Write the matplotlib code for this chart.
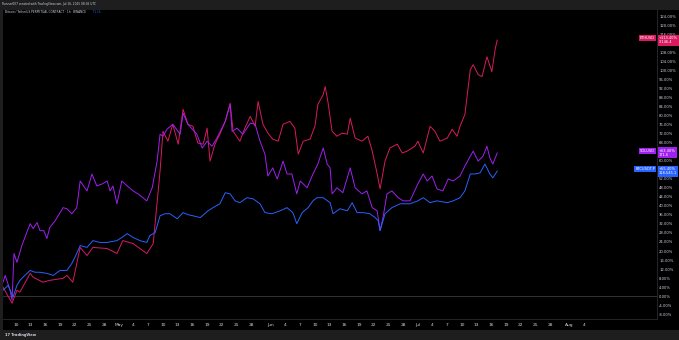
import matplotlib.pyplot as plt
import matplotlib.ticker as mticker
import pandas as pd
import numpy as np

# day offsets from 2025-04-10 and % change
START = pd.Timestamp("2025-04-10")

eth_days = [-2.65, -0.8, 0.2, 0.8, 2.9, 3.5, 5.5, 6.9, 9.6, 10.4, 11.6, 13.1, 14.5, 15.7, 18.6,
            20.6, 21.8, 23.9, 26.7, 28.0, 29.4, 30.0, 31.0, 32.0, 33.1, 34.1, 35.1, 36.1, 37.1,
            38.2, 39.0, 39.6, 40.6, 41.6, 42.7, 43.7, 44.3, 45.7, 46.7, 47.8, 48.8, 49.4, 50.4,
            51.4, 52.4, 53.5, 54.5, 55.9, 56.9, 57.6, 58.6, 60.0, 61.0, 61.6, 62.7, 63.1, 63.7,
            64.5, 65.5, 66.5, 67.6, 68.2, 69.2, 70.6, 71.8, 72.7, 73.7, 74.3, 75.3, 76.3, 77.8,
            78.8, 79.8, 81.4, 82.0, 83.1, 84.5, 85.5, 86.5, 88.0, 89.0, 90.0, 90.6, 91.6, 92.0,
            92.7, 93.3, 94.3, 95.1, 96.1, 97.1, 97.8, 98.2]
eth_pct = [4.0, -3.1, 2.6, 1.8, 10.1, 8.4, 6.2, 7.0, 7.9, 9.2, 6.2, 21.6, 18.0, 21.6, 21.1,
           18.9, 24.6, 23.3, 18.9, 23.3, 55.4, 73.0, 68.6, 76.1, 67.3, 82.7, 76.1, 75.2, 67.8,
           67.3, 74.4, 59.8, 67.3, 71.7, 77.4, 85.4, 73.0, 68.6, 74.4, 79.6, 75.2, 86.2, 76.1,
           72.2, 69.5, 68.6, 76.1, 77.4, 74.4, 62.9, 68.6, 69.5, 75.2, 84.9, 89.3, 92.8, 85.4,
           73.0, 70.8, 72.2, 71.7, 78.8, 70.0, 68.6, 70.8, 64.2, 54.1, 47.5, 59.8, 65.6, 67.3,
           63.4, 64.2, 66.4, 68.6, 63.4, 75.2, 73.0, 68.6, 70.0, 73.9, 70.8, 75.2, 80.5, 87.6,
           100.3, 102.5, 98.1, 97.2, 106.0, 99.4, 109.6, 113.4]

sol_days = [-2.65, -2.2, -1.2, -0.8, -0.4, 0.2, 1.2, 2.2, 2.9, 3.5, 4.3, 4.9, 5.7, 6.3, 6.9,
            8.0, 9.0, 9.6, 10.4, 11.4, 12.4, 13.1, 14.5, 15.5, 16.5, 17.6, 18.6, 19.2, 19.8,
            20.6, 21.6, 22.7, 23.9, 24.9, 25.9, 26.7, 27.8, 28.8, 29.4, 30.0, 30.8, 32.0, 33.5,
            34.1, 35.1, 36.9, 38.0, 39.0, 40.0, 41.0, 42.7, 43.7, 44.1, 45.1, 46.3, 47.8, 48.8,
            49.8, 50.8, 51.4, 52.4, 53.3, 54.5, 55.3, 56.3, 57.3, 58.0, 59.4, 60.6, 61.6, 62.0,
            62.7, 63.5, 64.1, 64.5, 65.5, 66.7, 68.2, 69.2, 70.6, 71.6, 72.7, 73.7, 74.3, 74.9,
            75.7, 76.7, 78.0, 79.0, 80.4, 82.0, 83.1, 83.9, 84.9, 85.9, 87.1, 88.2, 89.2, 90.6,
            91.6, 92.7, 93.3, 94.3, 95.3, 96.1, 96.7, 97.3, 98.2]
sol_pct = [6.2, 9.2, 2.6, -1.8, 18.9, 15.0, 22.4, 28.2, 32.1, 29.9, 32.6, 29.0, 29.0, 25.5, 30.4,
           33.4, 37.0, 39.2, 38.7, 36.5, 39.2, 51.0, 46.6, 54.1, 48.8, 49.7, 51.0, 46.6, 48.8,
           40.9, 51.0, 48.8, 46.6, 45.3, 43.6, 42.2, 48.0, 59.8, 71.7, 70.8, 73.9, 76.1, 71.7,
           81.0, 76.1, 71.7, 65.6, 68.6, 66.4, 70.0, 77.4, 84.9, 73.0, 74.4, 71.7, 76.6, 76.1,
           68.6, 62.9, 53.2, 56.8, 51.9, 59.8, 54.1, 54.1, 45.3, 51.0, 48.0, 54.1, 58.5, 61.2,
           65.6, 58.5, 56.8, 45.3, 48.0, 45.8, 56.8, 48.0, 45.3, 46.6, 39.2, 37.8, 29.0, 34.8,
           45.3, 46.6, 43.6, 42.2, 42.2, 49.7, 54.1, 51.0, 53.2, 47.5, 46.6, 51.9, 51.0, 53.2,
           57.6, 62.0, 64.2, 59.8, 62.0, 66.4, 61.2, 58.5, 63.4]

btc_days = [-2.65, -1.6, -0.6, 0.2, 0.8, 1.8, 2.9, 3.9, 4.9, 6.3, 7.6, 9.0, 10.4, 11.4, 12.2,
            13.1, 14.5, 15.7, 17.1, 18.6, 20.6, 21.6, 22.7, 23.9, 25.3, 26.7, 27.3, 28.4, 29.4,
            30.4, 31.4, 32.9, 34.1, 35.1, 36.1, 37.6, 39.2, 40.2, 41.6, 42.7, 43.7, 44.7, 45.7,
            47.1, 48.4, 49.8, 50.8, 52.2, 53.9, 55.3, 56.5, 57.3, 58.4, 59.6, 60.6, 61.4, 62.7,
            64.1, 64.7, 66.1, 67.6, 68.6, 69.6, 70.8, 72.2, 73.3, 73.9, 74.3, 75.3, 76.7, 78.4,
            80.4, 82.0, 83.1, 84.5, 85.9, 88.0, 89.2, 90.6, 91.6, 92.7, 93.7, 94.7, 95.7, 96.7,
            97.3, 98.2]
btc_pct = [2.6, 4.8, -0.4, 4.8, 7.0, 9.2, 11.4, 10.6, 10.6, 10.1, 9.2, 11.4, 11.4, 14.5, 18.0,
           22.4, 21.6, 24.6, 23.8, 23.8, 24.6, 26.0, 27.7, 26.0, 24.6, 23.8, 26.8, 28.2, 35.6,
           36.5, 36.5, 34.3, 37.0, 36.1, 35.6, 34.8, 37.8, 39.2, 40.9, 45.8, 45.3, 42.2, 41.4,
           43.6, 43.1, 40.9, 37.0, 36.5, 37.8, 39.2, 37.0, 32.1, 37.0, 39.2, 42.2, 43.6, 43.6,
           41.4, 36.5, 38.7, 37.8, 41.4, 37.0, 37.0, 36.5, 34.8, 33.4, 29.0, 36.5, 39.2, 40.9,
           40.9, 42.2, 43.6, 41.4, 42.2, 41.4, 42.2, 43.6, 46.6, 54.1, 54.1, 54.6, 58.5, 54.1,
           52.4, 55.4]

symbols = ["ETHUSD", "SOLUSD", "BTCUSDT.P"]
last_prices = ["3,146.4", "171.6", "118,545.1"]
colors = ["#d81b60", "#a020f0", "#2962ff"]

BG = "#000000"
BAR = "#1e1e1e"
TXT = "#d1d4dc"


def to_dates(days):
    return START + pd.to_timedelta(np.array(days), unit="D")


def main():
    fig = plt.figure(figsize=(6.79, 3.40), dpi=100, facecolor=BAR)

    # black chart panel (chart + time axis + price axis)
    panel = fig.add_axes([0.0044, 1 - 330 / 340, 0.9956, (330 - 10) / 340])
    panel.set_facecolor(BG)
    panel.set_xticks([])
    panel.set_yticks([])
    for s in panel.spines.values():
        s.set_visible(False)

    ax = fig.add_axes([0.0044, 1 - 319 / 340, 0.9632, (319 - 10) / 340])
    ax.set_facecolor(BG)

    series = [(eth_days, eth_pct), (sol_days, sol_pct), (btc_days, btc_pct)]
    for (d, p), c in zip(series, colors):
        ax.plot(to_dates(d), p, color=c, lw=0.7)

    ax.axhline(0, color="#3a3a3a", lw=0.6, zorder=0)

    ax.set_xlim(START + pd.Timedelta(days=-2.65), START + pd.Timedelta(days=130.8))
    ax.set_ylim(-10.1, 126.7)

    # time axis: every 3 days, month names on the 1st
    ticks = []
    for m, days in [(4, range(10, 29, 3)), (5, [1] + list(range(4, 29, 3))),
                    (6, [1] + list(range(4, 29, 3))), (7, [1] + list(range(4, 29, 3))),
                    (8, [1, 4])]:
        for dd in days:
            ticks.append(pd.Timestamp(2025, m, dd))
    ax.set_xticks(ticks)
    ax.set_xticklabels([t.strftime("%b") if t.day == 1 else str(t.day) for t in ticks])

    ax.yaxis.tick_right()
    ax.set_yticks(np.arange(-8, 125, 4))
    ax.yaxis.set_major_formatter(mticker.FuncFormatter(lambda v, _: f"{v:.2f}%"))
    ax.tick_params(axis="x", colors=TXT, labelsize=3.2, length=0, pad=3)
    ax.tick_params(axis="y", colors=TXT, labelsize=2.7, length=0, pad=1.5)
    for s in ["top", "left"]:
        ax.spines[s].set_visible(False)
    ax.spines["bottom"].set_color("#2a2a2a")
    ax.spines["right"].set_color("#2a2a2a")
    ax.spines["bottom"].set_linewidth(0.6)
    ax.spines["right"].set_linewidth(0.6)

    # last value labels
    trans = ax.get_yaxis_transform()
    for (d, p), c, sym, price in zip(series, colors, symbols, last_prices):
        last = p[-1]
        ax.text(0.997, last + 1.0, sym, transform=trans, ha="right", va="center",
                fontsize=2.6, color="white", zorder=5,
                bbox=dict(boxstyle="square,pad=0.3", fc=c, ec="none"))
        ax.text(1.003, last, f"+{last:.2f}%\n{price}", transform=trans, ha="left",
                va="center", fontsize=2.6, color="white", linespacing=1.15, zorder=5,
                bbox=dict(boxstyle="square,pad=0.35", fc=c, ec="none"), clip_on=False)

    # header and footer
    fig.text(0.003, 1 - 4.5 / 340, "Runner007 created with TradingView.com, Jul 16, 2025 08:05 UTC",
             fontsize=2.1, color=TXT, va="center")
    fig.text(0.008, 1 - 12 / 340, "Bitcoin / TetherUS PERPETUAL CONTRACT · 1h · BINANCE",
             fontsize=2.1, color=TXT, va="center")
    fig.text(93 / 679, 1 - 12 / 340, "TL LS", fontsize=2.1, color="#2962ff", va="center")
    fig.text(0.008, 1 - 335 / 340, "17 TradingView", fontsize=2.6, color=TXT,
             va="center", fontweight="bold")

    plt.savefig("out.png", dpi=100, facecolor=BAR)
    plt.close()


if __name__ == "__main__":
    main()
